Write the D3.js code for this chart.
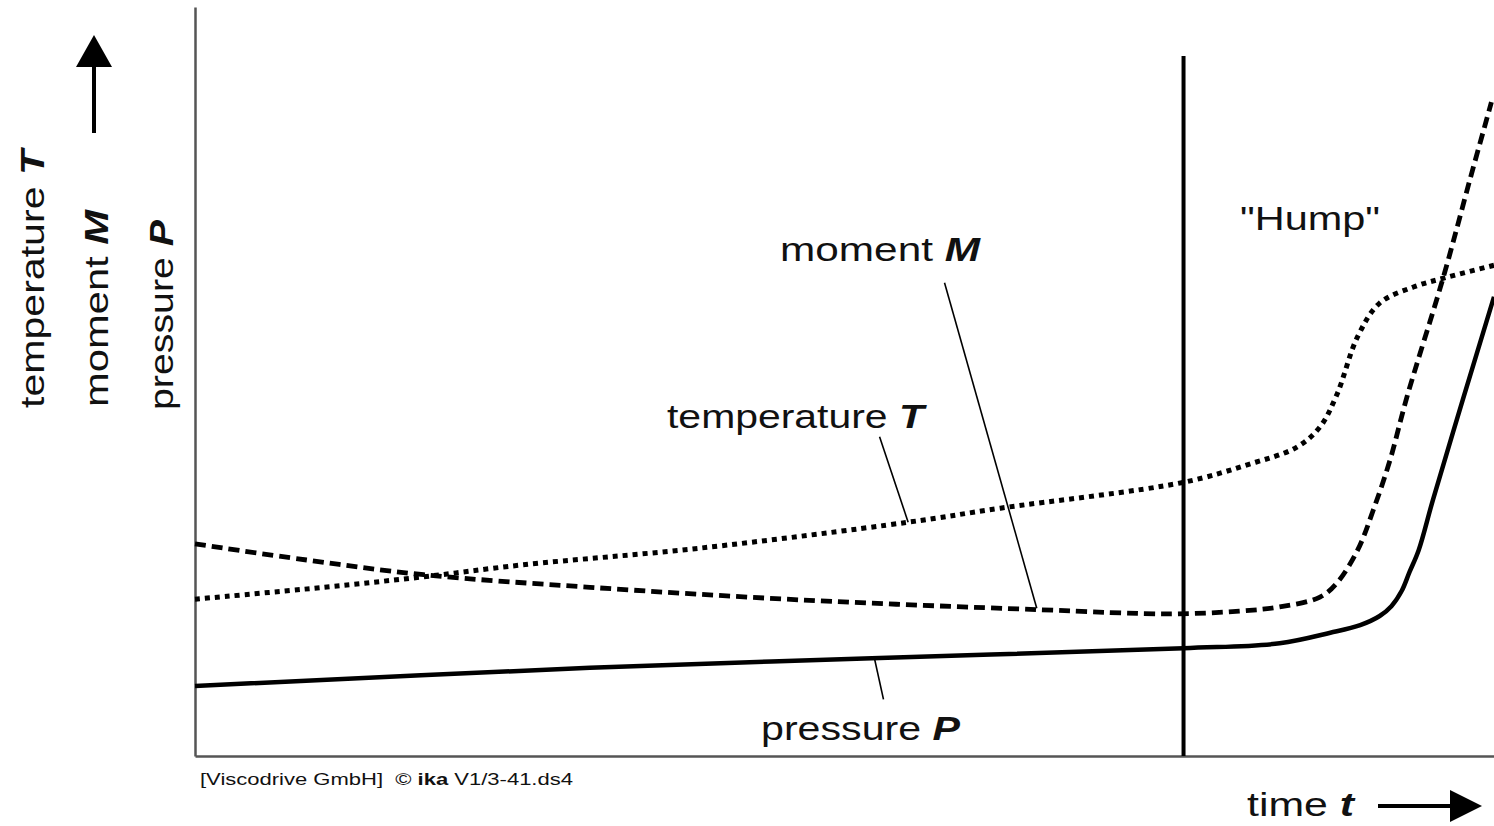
<!DOCTYPE html>
<html>
<head>
<meta charset="utf-8">
<script src="https://cdn.jsdelivr.net/npm/d3@7"></script>
<style>
  html, body { margin: 0; padding: 0; background: #fff; }
  svg { display: block; }
  text { font-family: "Liberation Sans", Arial, Helvetica, sans-serif; fill: #111; }
</style>
</head>
<body>
<svg id="chart" width="1494" height="826"></svg>
<script>
// ---- data (time t in % of run, value in arbitrary units) ----
const pressureT = [0, 30.4, 52.7, 76.1, 83.5, 87.4, 89.7, 91.2, 92.1, 92.9, 93.5, 94.2, 95.3, 97.6, 100];
const pressureV = [10.0, 12.6, 14.0, 15.4, 16.1, 17.6, 18.7, 20.0, 21.4, 23.6, 26.3, 29.4, 36.6, 50.9, 65.6];

const momentT = [0, 8.6, 17.6, 30.4, 46.6, 65.0, 75.1, 80.4, 83.5, 86.6, 87.9, 89.5, 90.7, 92.0, 93.3, 96.1, 98.2, 99.8];
const momentV = [30.3, 28.0, 25.9, 24.1, 22.3, 20.9, 20.3, 20.7, 21.3, 22.7, 24.7, 29.4, 35.1, 42.3, 51.3, 68.4, 82.7, 93.4];

const temperatureT = [0, 9.9, 17.6, 25.2, 38.9, 54.9, 62.0, 76.1, 81.0, 84.8, 86.6, 87.9, 89.5, 91.2, 93.8, 96.4, 100];
const temperatureV = [22.4, 24.1, 25.6, 27.3, 29.7, 33.4, 35.4, 39.1, 41.6, 44.1, 47.0, 51.6, 59.9, 64.7, 67.0, 68.4, 70.1];

const humpT = 76.1;        // start of the "Hump" phase
const humpTop = 100;

// label texts
const yLabels = [["temperature ", "T"], ["moment ", "M"], ["pressure ", "P"]];
const xLabel = ["time ", "t"];
const caption = "[Viscodrive GmbH]";
const captionCopy = "ika";
const captionRest = " V1/3-41.ds4";

// annotation leader lines [t1, v1, t2, v2]
const leaderMoment = [57.7, 67.6, 64.8, 21.1];
const leaderTemp = [52.7, 45.6, 54.9, 33.4];
const leaderPress = [52.3, 14.0, 53.0, 8.1];

// ---- drawing ----
const svg = d3.select("#chart");
const x = d3.scaleLinear().domain([0, 100]).range([195, 1494]);
const y = d3.scaleLinear().domain([0, 107]).range([756, 7]);

const zip = (a, b) => a.map((d, i) => [d, b[i]]);
const line = d3.line().x(d => x(d[0])).y(d => y(d[1])).curve(d3.curveCatmullRom.alpha(0.5));

// axes
svg.append("g").attr("transform", `translate(0,${y(0)})`)
  .call(d3.axisBottom(x).ticks(0).tickSizeOuter(0))
  .call(g => g.select(".domain").attr("stroke", "#555").attr("stroke-width", 2.5));
svg.append("g").attr("transform", `translate(${x(0)},0)`)
  .call(d3.axisLeft(y).ticks(0).tickSizeOuter(0))
  .call(g => g.select(".domain").attr("stroke", "#555").attr("stroke-width", 2.5));

// hump separator
svg.append("line")
  .attr("x1", x(humpT)).attr("x2", x(humpT))
  .attr("y1", y(humpTop)).attr("y2", y(0))
  .attr("stroke", "#000").attr("stroke-width", 4);

// curves
svg.append("path").datum(zip(pressureT, pressureV))
  .attr("d", line).attr("fill", "none").attr("stroke", "#000").attr("stroke-width", 4.5);
svg.append("path").datum(zip(momentT, momentV))
  .attr("d", line).attr("fill", "none").attr("stroke", "#000").attr("stroke-width", 4.8)
  .attr("stroke-dasharray", "11,6");
svg.append("path").datum(zip(temperatureT, temperatureV))
  .attr("d", line).attr("fill", "none").attr("stroke", "#000").attr("stroke-width", 5)
  .attr("stroke-dasharray", "5,5");

// leader lines
[leaderMoment, leaderTemp, leaderPress].forEach(l => {
  svg.append("line")
    .attr("x1", x(l[0])).attr("y1", y(l[1]))
    .attr("x2", x(l[2])).attr("y2", y(l[3]))
    .attr("stroke", "#000").attr("stroke-width", 1.6);
});

// in-plot labels
function label(parts, xp, yp, len, size, transform) {
  const t = svg.append("text")
    .attr("font-size", size)
    .attr("textLength", len).attr("lengthAdjust", "spacingAndGlyphs");
  if (transform) t.attr("transform", transform);
  else t.attr("x", xp).attr("y", yp);
  t.append("tspan").text(parts[0]);
  t.append("tspan").attr("font-weight", "bold").attr("font-style", "italic").text(parts[1]);
  return t;
}
label(["moment ", "M"], 780, 261, 200, 34);
label(["temperature ", "T"], 667, 428, 257, 34);
label(["pressure ", "P"], 761, 740, 199, 34);

svg.append("text").attr("x", 1240).attr("y", 230).attr("font-size", 34)
  .attr("textLength", 140).attr("lengthAdjust", "spacingAndGlyphs").text("\"Hump\"");

// y-axis labels (rotated)
label(yLabels[0], 0, 0, 258, 34, "translate(44,408) rotate(-90)");
label(yLabels[1], 0, 0, 197, 34, "translate(108,407) rotate(-90)");
label(yLabels[2], 0, 0, 190, 34, "translate(173,410) rotate(-90)");

// x label
label(xLabel, 1247, 816, 107, 34);

// arrows
svg.append("line").attr("x1", 94).attr("x2", 94).attr("y1", 133).attr("y2", 62)
  .attr("stroke", "#000").attr("stroke-width", 4);
svg.append("path").attr("d", "M94,35 L112,67 L76,67 Z").attr("fill", "#000");
svg.append("line").attr("x1", 1378).attr("x2", 1454).attr("y1", 806).attr("y2", 806)
  .attr("stroke", "#000").attr("stroke-width", 4);
svg.append("path").attr("d", "M1482,806 L1450,790 L1450,822 Z").attr("fill", "#000");

// caption
const cap = svg.append("text").attr("x", 200).attr("y", 785).attr("font-size", 16)
  .attr("textLength", 373).attr("lengthAdjust", "spacingAndGlyphs").attr("xml:space", "preserve");
cap.append("tspan").text(caption + "\u00A0\u00A0\u00A9\u00A0");
cap.append("tspan").attr("font-weight", "bold").text(captionCopy);
cap.append("tspan").text(captionRest);
</script>
</body>
</html>
